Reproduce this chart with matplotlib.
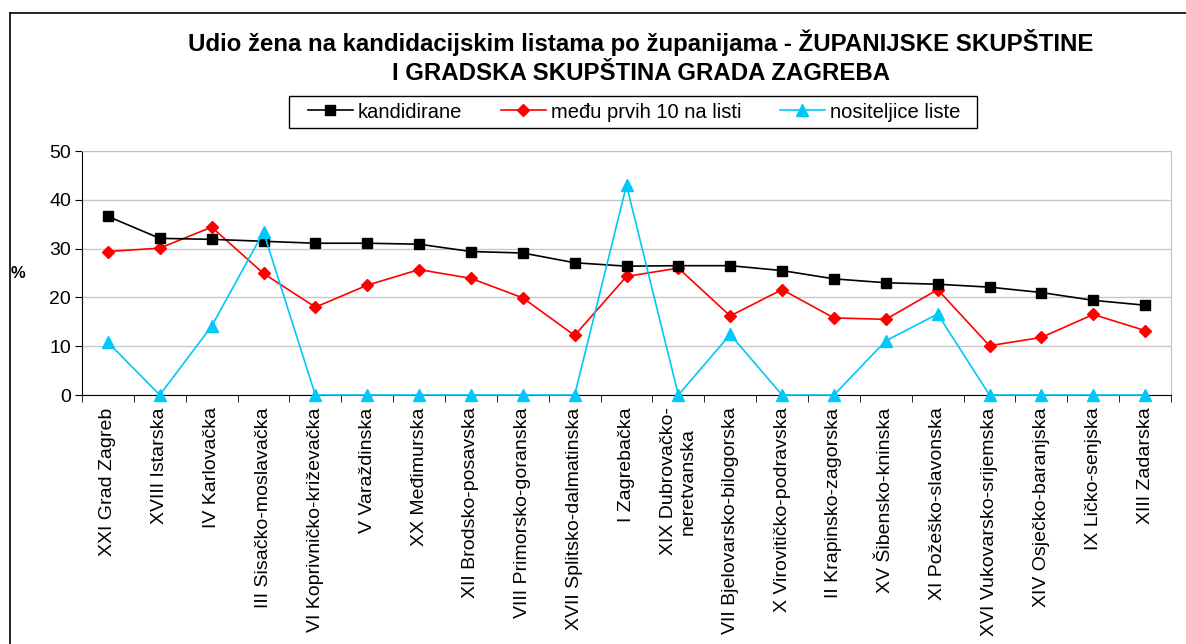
import matplotlib
matplotlib.use("Agg")
import matplotlib.pyplot as plt
from matplotlib.lines import Line2D
from matplotlib.patches import Rectangle
import numpy as np

plt.rcParams["font.family"] = ["Liberation Sans", "DejaVu Sans"]

# Data
counties = [
    "XXI Grad Zagreb", "XVIII Istarska", "IV Karlovačka", "III Sisačko-moslavačka",
    "VI Koprivničko-križevačka", "V Varaždinska", "XX Međimurska", "XII Brodsko-posavska",
    "VIII Primorsko-goranska", "XVII Splitsko-dalmatinska", "I Zagrebačka",
    "XIX Dubrovačko-\nneretvanska", "VII Bjelovarsko-bilogorska", "X Virovitičko-podravska",
    "II Krapinsko-zagorska", "XV Šibensko-kninska", "XI Požeško-slavonska",
    "XVI Vukovarsko-srijemska", "XIV Osječko-baranjska", "IX Ličko-senjska", "XIII Zadarska",
]
kandidirane = [36.6, 32.1, 31.9, 31.5, 31.1, 31.1, 30.9, 29.4, 29.1, 27.1, 26.4,
               26.5, 26.5, 25.5, 23.8, 23.0, 22.7, 22.1, 21.0, 19.4, 18.4]
prvih10 = [29.4, 30.1, 34.4, 24.9, 18.0, 22.5, 25.7, 23.9, 19.9, 12.2, 24.3,
           26.0, 16.2, 21.6, 15.8, 15.5, 21.6, 10.1, 11.8, 16.5, 13.2]
nositeljice = [10.8, 0, 14.1, 33.4, 0, 0, 0, 0, 0, 0, 43.0,
               0, 12.4, 0, 0, 11.1, 16.6, 0, 0, 0, 0]
y_ticks = [0, 10, 20, 30, 40, 50]

W, H = 1186, 644
fig = plt.figure(figsize=(W / 100, H / 100), dpi=100)
ax = fig.add_axes([82 / W, 1 - 395 / H, (1171 - 82) / W, (395 - 151) / H])

x = np.arange(len(counties))
ax.plot(x, kandidirane, color="black", lw=1.2, marker="s", ms=6.5,
        label="kandidirane", clip_on=False, zorder=4)
ax.plot(x, prvih10, color="#FF0000", lw=1.2, marker="D", ms=6,
        label="među prvih 10 na listi", clip_on=False, zorder=3)
ax.plot(x, nositeljice, color="#00C8F8", lw=1.2, marker="^", ms=8,
        label="nositeljice liste", clip_on=False, zorder=5)

ax.set_xlim(-0.5, len(counties) - 0.5)
ax.set_ylim(0, 50)
ax.set_yticks(y_ticks)
ax.yaxis.grid(True, color="#c8c8c8", lw=1)
ax.set_axisbelow(True)

ax.set_xticks(x)
ax.set_xticklabels(counties, rotation=90, va="top", ha="center", fontsize=14,
                   multialignment="center")
ax.tick_params(axis="x", which="major", length=0, pad=9)
ax.set_xticks(np.arange(-0.5, len(counties)), minor=True)
ax.tick_params(axis="x", which="minor", length=5, direction="out", color="black")
ax.tick_params(axis="y", length=5, direction="out", labelsize=14, pad=3)

for side in ("top", "right"):
    ax.spines[side].set_color("#c0c0c0")
for side in ("left", "bottom"):
    ax.spines[side].set_color("black")

fig.text(18 / W, 1 - 273 / H, "%", fontsize=12, fontweight="bold",
         ha="center", va="center")

fig.text(641 / W, 1 - 42 / H, "Udio žena na kandidacijskim listama po županijama - ŽUPANIJSKE SKUPŠTINE",
         fontsize=17.3, fontweight="bold", ha="center", va="center")
fig.text(641 / W, 1 - 73 / H, "I GRADSKA SKUPŠTINA GRADA ZAGREBA",
         fontsize=17.3, fontweight="bold", ha="center", va="center")

leg = fig.legend(loc="center", bbox_to_anchor=(634 / W, 1 - 112 / H), ncol=3,
                 frameon=False, fontsize=14.5,
                 handlelength=2.25, columnspacing=1.9, handletextpad=0.25,
                 borderpad=0.2)
fig.add_artist(Rectangle((289 / W, 1 - 128 / H), (977 - 289) / W, 32 / H,
                         transform=fig.transFigure, fill=False,
                         edgecolor="black", lw=1))

# outer chart frame
fig.add_artist(Line2D([10 / W, 10 / W], [0, 1 - 13 / H], color="black", lw=1.2,
                      transform=fig.transFigure))
fig.add_artist(Line2D([10 / W, 1], [1 - 13 / H, 1 - 13 / H], color="black", lw=1.2,
                      transform=fig.transFigure))

fig.savefig("out.png", dpi=100)
